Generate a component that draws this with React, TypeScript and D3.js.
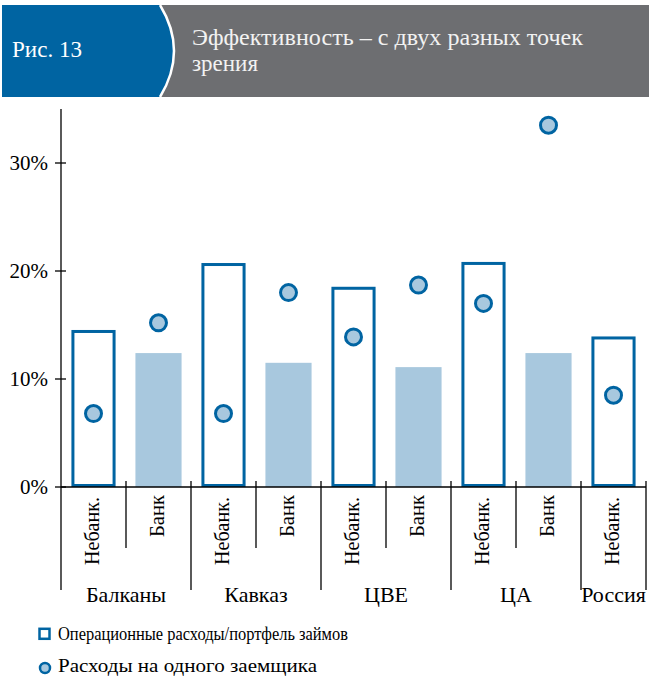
import React from "react";
import * as d3 from "d3";

// data
const groups = ["Балканы", "Кавказ", "ЦВЕ", "ЦА", "Россия"];
const groupOf = ["Балканы", "Балканы", "Кавказ", "Кавказ", "ЦВЕ", "ЦВЕ", "ЦА", "ЦА", "Россия"];
const subLabels = ["Небанк.", "Банк", "Небанк.", "Банк", "Небанк.", "Банк", "Небанк.", "Банк", "Небанк."];
const costToPortfolio = [14.4, 12.4, 20.6, 11.5, 18.4, 11.1, 20.7, 12.4, 13.8];
const costPerBorrower = [6.8, 15.2, 6.8, 18.0, 13.9, 18.7, 17.0, 33.5, 8.5];
const yTicks = [0, 10, 20, 30];

const W = 649;
const H = 679;
const BLUE = "#0064a2";
const LIGHT = "#a8c8de";
const GRAY = "#6d6e71";
const FONT = "'Liberation Serif', Tinos, 'DejaVu Serif', 'Noto Serif', FreeSerif, Times, serif";

export default function App() {
  const keys = subLabels.map((_, i) => String(i));

  // scales
  const x = d3.scaleBand<string>()
    .domain(keys)
    .range([61, 646])
    .paddingInner(0.29)
    .paddingOuter(0.145);
  const step = x.step();
  const y = d3.scaleLinear().domain([0, 35]).range([487, 109]);

  const groupSpan = groups.map((g) => {
    const idx = groupOf.map((d, i) => (d === g ? i : -1)).filter((i) => i >= 0);
    const x0 = x(keys[idx[0]])! - (step - x.bandwidth()) / 2;
    const x1 = x(keys[idx[idx.length - 1]])! + x.bandwidth() + (step - x.bandwidth()) / 2;
    return { g, x0, x1, idx };
  });

  const bw = x.bandwidth();

  return (
    <div style={{ position: "absolute", left: 0, top: 0 }}>
      <svg width={W} height={H} style={{ display: "block", fontFamily: FONT }}>
        <rect width={W} height={H} fill="#fff" />

        {/* header */}
        <rect x={150} y={5} width={W - 150} height={92} fill={GRAY} />
        <path d="M2,5 H160 Q188,51 160,97 H2 Z" fill={BLUE} />
        <path d="M160,5 Q188,51 160,97" fill="none" stroke="#fff" strokeWidth={2.5} />
        <text x={12} y={57} fill="#fff" fontSize={23} textLength={70} lengthAdjust="spacingAndGlyphs">Рис. 13</text>
        <text x={192} y={45} fill="#f2f2f2" fontSize={23} textLength={391} lengthAdjust="spacingAndGlyphs">
          Эффективность – с двух разных точек
        </text>
        <text x={192} y={71} fill="#f2f2f2" fontSize={23} textLength={66} lengthAdjust="spacingAndGlyphs">зрения</text>

        {/* bars */}
        {costToPortfolio.map((v, i) =>
          subLabels[i] === "Банк" ? (
            <rect key={"b" + i} x={x(keys[i])} y={y(v)} width={bw} height={y(0) - y(v)} fill={LIGHT} />
          ) : (
            <rect
              key={"b" + i}
              x={x(keys[i])! + 2.5}
              y={y(v)}
              width={bw - 5}
              height={y(0) - y(v) - 1.5}
              fill="#fff"
              stroke={BLUE}
              strokeWidth={3}
            />
          )
        )}

        {/* y axis */}
        <line x1={61} x2={61} y1={y(35)} y2={590} stroke="#000" strokeWidth={1.3} />
        {yTicks.map((t) => (
          <g key={t} transform={`translate(0,${y(t)})`}>
            <line x1={55} x2={66} stroke="#000" strokeWidth={1.3} />
            <text x={48} dy="0.35em" textAnchor="end" fontSize={21}>
              {t}%
            </text>
          </g>
        ))}

        {/* x axis */}
        <line x1={61} x2={646} y1={y(0)} y2={y(0)} stroke="#000" strokeWidth={1.5} />
        {groupSpan.map((s) => (
          <g key={s.g}>
            <line x1={s.x1} x2={s.x1} y1={481} y2={590} stroke="#000" strokeWidth={1.3} />
            {s.idx.slice(0, -1).map((i) => {
              const xs = x(keys[i])! + bw + (step - bw) / 2;
              return <line key={i} x1={xs} x2={xs} y1={481} y2={548} stroke="#000" strokeWidth={1.3} />;
            })}
            <text x={(s.x0 + s.x1) / 2} y={602} textAnchor="middle" fontSize={22}>{s.g}</text>
          </g>
        ))}
        {subLabels.map((l, i) => {
          const cx = x(keys[i])! + bw / 2;
          return (
            <text
              key={"l" + i}
              transform={`translate(${cx},${l === "Банк" ? 495 : 497}) rotate(-90)`}
              dy="0.25em"
              textAnchor="end"
              fontSize={22}
              textLength={l === "Банк" ? 42 : 68}
              lengthAdjust="spacingAndGlyphs"
            >
              {l}
            </text>
          );
        })}

        {/* dots */}
        {costPerBorrower.map((v, i) => (
          <circle
            key={"d" + i}
            cx={x(keys[i])! + bw / 2}
            cy={y(v)}
            r={8}
            fill={LIGHT}
            stroke={BLUE}
            strokeWidth={3}
          />
        ))}

        {/* legend */}
        <rect x={39.5} y={628.8} width={10} height={10} fill="#fff" stroke={BLUE} strokeWidth={2.5} />
        <text x={58} y={640} fontSize={19} textLength={290} lengthAdjust="spacingAndGlyphs">
          Операционные расходы/портфель займов
        </text>
        <circle cx={45} cy={668} r={5} fill={LIGHT} stroke={BLUE} strokeWidth={2.5} />
        <text x={58} y={672} fontSize={19} textLength={259} lengthAdjust="spacingAndGlyphs">
          Расходы на одного заемщика
        </text>
      </svg>
    </div>
  );
}
